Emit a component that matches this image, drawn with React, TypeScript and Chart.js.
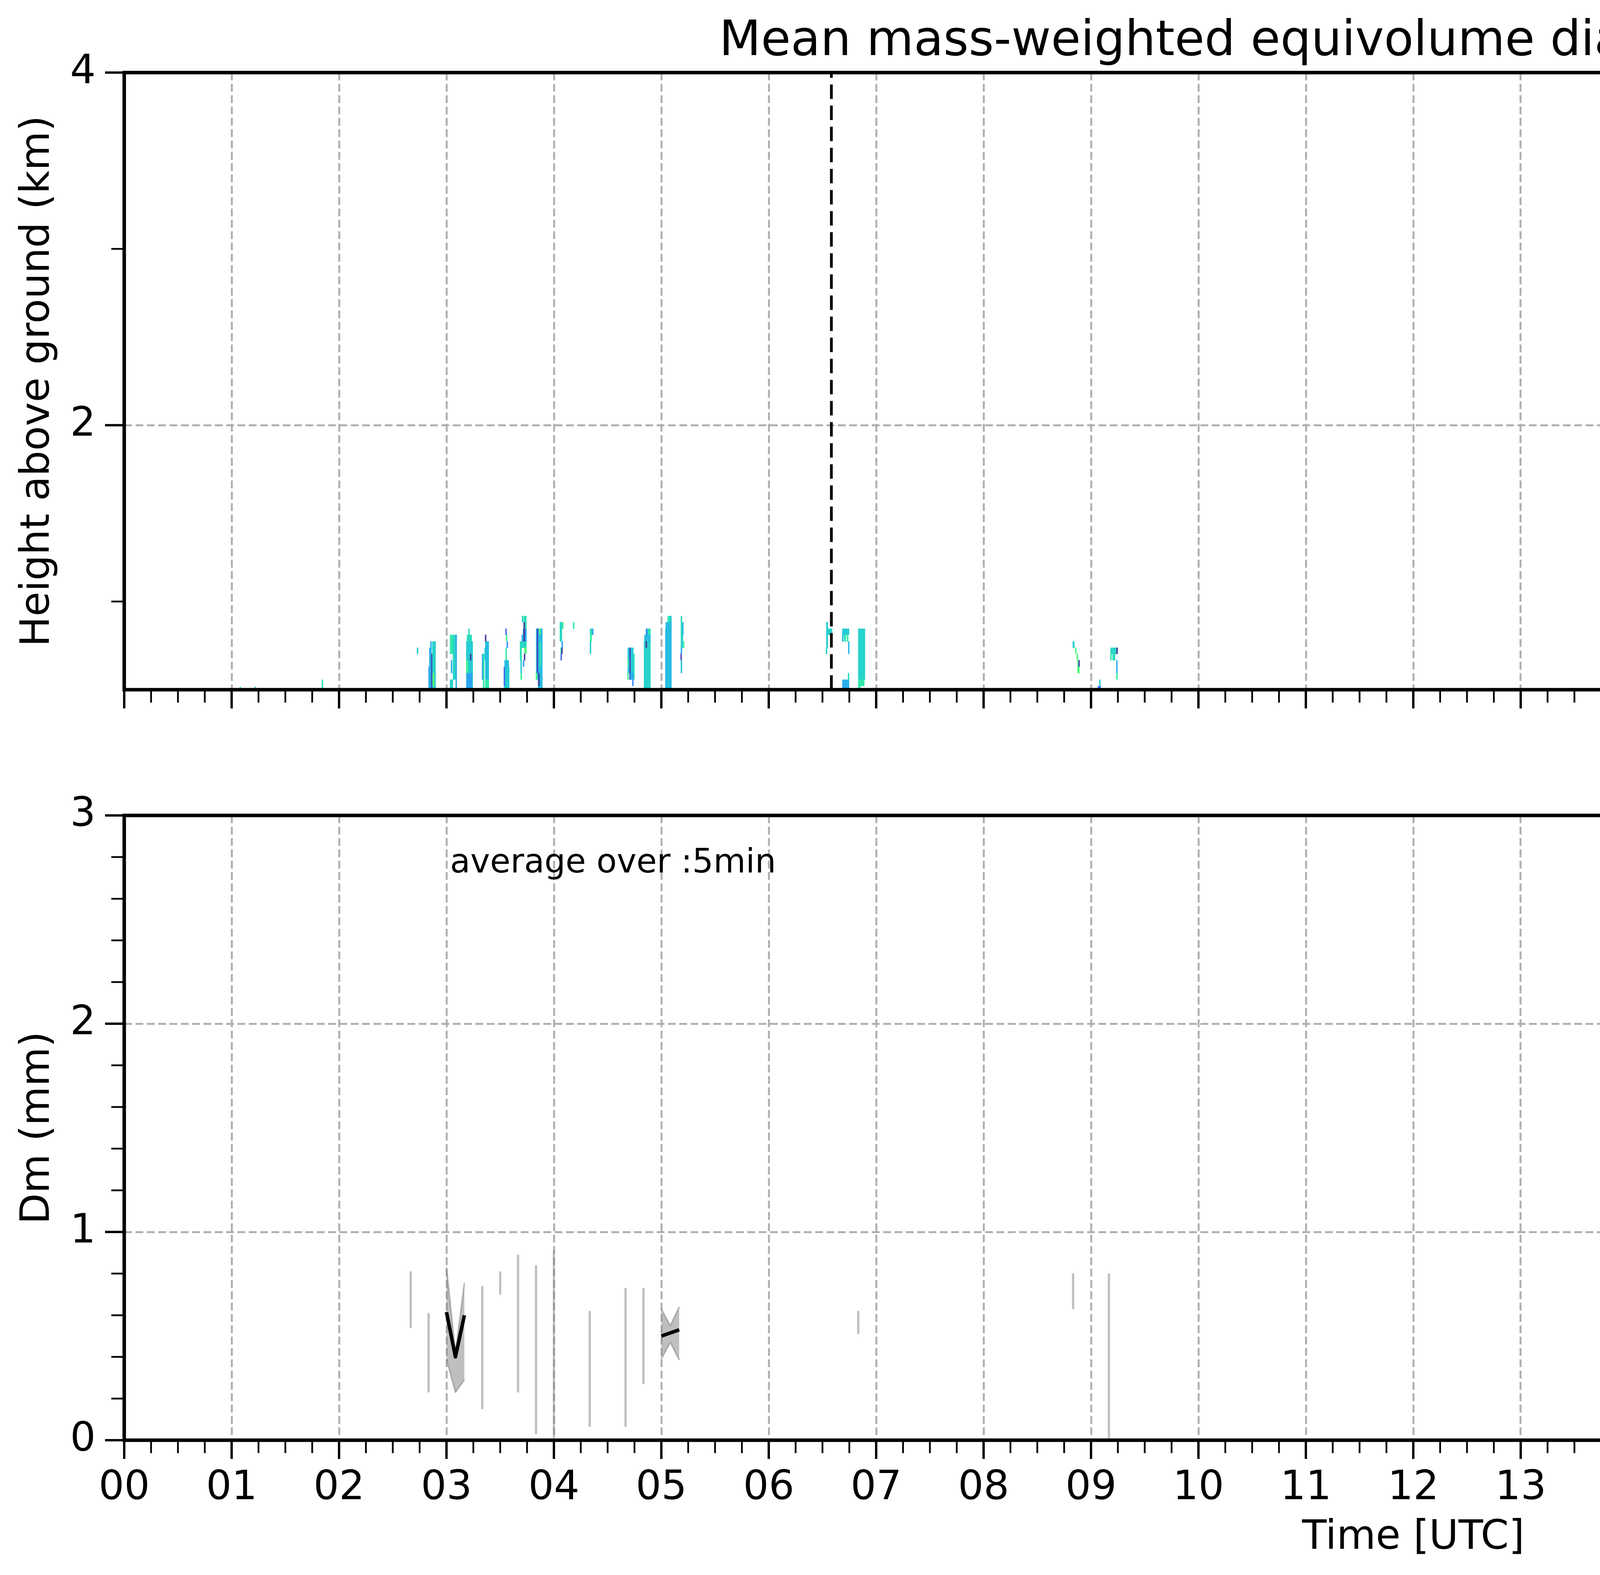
import React, { useEffect, useRef } from "react";
import { Chart } from "chart.js/auto";

const FONT = "'DejaVu Sans', sans-serif";
Chart.defaults.font.family = FONT;
Chart.defaults.color = "#000";

// ---------- values ----------
const chartTitle = "Mean mass-weighted equivolume diameter on 20260205";
const heightAxisTitle = "Height above ground (km)";
const dmAxisTitle = "Dm (mm)";
const timeAxisTitle = "Time [UTC]";
const colorbarTitle = "Dm (mm)";
const averagingNote = "average over :5min";

const hourLabels = [
  "00", "01", "02", "03", "04", "05", "06", "07", "08", "09", "10", "11",
  "12", "13", "14", "15", "16", "17", "18", "19", "20", "21", "22", "23",
];
const heightRange = [0.5, 4];
const heightTicks = [1, 2, 3, 4];
const heightTickLabels = ["", "2", "", "4"];
const dmRange = [0, 3];
const dmTicks = [0, 0.2, 0.4, 0.6, 0.8, 1, 1.2, 1.4, 1.6, 1.8, 2, 2.2, 2.4, 2.6, 2.8, 3];
const dmTickLabels = ["0", "", "", "", "", "1", "", "", "", "", "2", "", "", "", "", "3"];
const colorbarTicks = [0, 0.4, 0.8, 1.2, 1.6, 2.0];
const colorbarTickLabels = ["0.0", "0.4", "0.8", "1.2", "1.6", "2.0"];

// dashed markers (hours UTC) and the grey no-data strip at the end of the day
const eventTimes = [6.583, 16.33];
const noDataSpan = [23.885, 24];

// radar Dm cells: [start h, end h, bottom km, top km, Dm mm]
const cellsEarly = [
  [1.075, 1.085, 0.5, 0.515, 0.62],
  [1.215, 1.225, 0.5, 0.515, 0.55],
  [1.842, 1.848, 0.51, 0.557, 0.65],
  [2.728, 2.733, 0.703, 0.738, 0.55],
];
const cells0250 = [
  [2.833, 2.845, 0.5, 0.63, 0.4],
  [2.84, 2.85, 0.5, 0.738, 0.46],
  [2.852, 2.859, 0.5, 0.774, 0.45],
  [2.863, 2.866, 0.5, 0.703, 0.1],
  [2.868, 2.899, 0.5, 0.774, 0.58],
  [2.876, 2.882, 0.521, 0.594, 0.85],
];
const cells0300 = [
  [3.033, 3.06, 0.703, 0.811, 0.68],
  [3.06, 3.085, 0.557, 0.811, 0.6],
  [3.085, 3.096, 0.5, 0.811, 0.45],
  [3.033, 3.06, 0.5, 0.557, 0.58],
  [3.045, 3.049, 0.594, 0.667, 0.45],
  [3.184, 3.245, 0.5, 0.774, 0.55],
  [3.191, 3.236, 0.774, 0.811, 0.62],
  [3.205, 3.213, 0.811, 0.846, 0.62],
  [3.184, 3.2, 0.594, 0.667, 0.75],
  [3.187, 3.24, 0.5, 0.594, 0.42],
  [3.222, 3.228, 0.667, 0.703, 0.1],
  [3.332, 3.34, 0.557, 0.703, 0.38],
  [3.34, 3.352, 0.5, 0.703, 0.68],
  [3.358, 3.362, 0.667, 0.738, 0.55],
  [3.361, 3.394, 0.5, 0.774, 0.5],
  [3.363, 3.366, 0.774, 0.811, 0.1],
  [3.36, 3.394, 0.5, 0.557, 0.68],
  [3.536, 3.584, 0.5, 0.63, 0.55],
  [3.536, 3.542, 0.521, 0.63, 0.25],
  [3.54, 3.58, 0.63, 0.667, 0.5],
  [3.553, 3.558, 0.667, 0.738, 0.7],
  [3.562, 3.57, 0.738, 0.774, 0.35],
  [3.557, 3.564, 0.774, 0.811, 0.75],
  [3.553, 3.556, 0.811, 0.846, 0.25],
  [3.684, 3.745, 0.738, 0.774, 0.6],
  [3.7, 3.745, 0.774, 0.811, 0.45],
  [3.712, 3.745, 0.811, 0.846, 0.4],
  [3.705, 3.712, 0.883, 0.918, 0.6],
  [3.719, 3.745, 0.846, 0.918, 0.65],
  [3.722, 3.725, 0.774, 0.883, 0.1],
  [3.684, 3.7, 0.667, 0.738, 0.65],
  [3.69, 3.7, 0.594, 0.667, 0.55],
  [3.69, 3.702, 0.557, 0.594, 0.72],
  [3.725, 3.745, 0.703, 0.738, 0.8],
  [3.725, 3.729, 0.667, 0.703, 0.1],
  [3.716, 3.72, 0.63, 0.667, 0.4],
  [3.834, 3.893, 0.557, 0.846, 0.5],
  [3.852, 3.893, 0.5, 0.557, 0.5],
  [3.865, 3.88, 0.63, 0.774, 0.65],
  [3.845, 3.85, 0.594, 0.846, 0.15],
  [3.862, 3.875, 0.811, 0.846, 0.8],
  [3.858, 3.862, 0.521, 0.594, 0.1],
  [3.834, 3.84, 0.557, 0.594, 0.8],
];
const cells0400 = [
  [4.055, 4.075, 0.774, 0.883, 0.6],
  [4.08, 4.085, 0.846, 0.883, 0.72],
  [4.075, 4.08, 0.738, 0.774, 0.4],
  [4.062, 4.072, 0.703, 0.738, 0.7],
  [4.073, 4.077, 0.703, 0.738, 0.1],
  [4.066, 4.07, 0.667, 0.703, 0.25],
  [4.182, 4.186, 0.846, 0.883, 0.7],
  [4.336, 4.354, 0.811, 0.846, 0.62],
  [4.356, 4.367, 0.811, 0.846, 0.42],
  [4.336, 4.352, 0.774, 0.811, 0.72],
  [4.336, 4.345, 0.703, 0.774, 0.55],
  [4.687, 4.74, 0.594, 0.738, 0.55],
  [4.74, 4.75, 0.557, 0.703, 0.62],
  [4.687, 4.705, 0.63, 0.667, 0.68],
  [4.705, 4.712, 0.557, 0.738, 0.15],
  [4.712, 4.74, 0.557, 0.594, 0.45],
  [4.688, 4.692, 0.557, 0.594, 0.75],
  [4.733, 4.737, 0.521, 0.557, 0.35],
  [4.838, 4.899, 0.5, 0.774, 0.58],
  [4.842, 4.899, 0.774, 0.811, 0.5],
  [4.856, 4.875, 0.811, 0.846, 0.38],
  [4.875, 4.899, 0.811, 0.846, 0.65],
  [4.858, 4.862, 0.738, 0.774, 0.1],
];
const cells0500 = [
  [5.037, 5.095, 0.5, 0.846, 0.5],
  [5.041, 5.095, 0.846, 0.883, 0.5],
  [5.059, 5.095, 0.883, 0.918, 0.55],
  [5.064, 5.072, 0.883, 0.918, 0.7],
  [5.182, 5.192, 0.738, 0.918, 0.62],
  [5.182, 5.192, 0.703, 0.738, 0.42],
  [5.182, 5.187, 0.667, 0.703, 0.15],
  [5.182, 5.192, 0.594, 0.667, 0.52],
  [5.192, 5.2, 0.738, 0.846, 0.55],
  [5.204, 5.21, 0.738, 0.774, 0.7],
  [5.199, 5.202, 0.811, 0.883, 0.5],
];
const cells0630 = [
  [6.536, 6.55, 0.738, 0.883, 0.55],
  [6.55, 6.59, 0.811, 0.846, 0.58],
  [6.536, 6.54, 0.703, 0.738, 0.6],
  [6.685, 6.748, 0.811, 0.846, 0.55],
  [6.685, 6.692, 0.774, 0.811, 0.5],
  [6.7, 6.718, 0.774, 0.811, 0.65],
  [6.728, 6.74, 0.774, 0.811, 0.7],
  [6.741, 6.748, 0.703, 0.774, 0.5],
  [6.685, 6.748, 0.5, 0.557, 0.45],
  [6.741, 6.745, 0.557, 0.594, 0.62],
  [6.833, 6.896, 0.557, 0.846, 0.58],
  [6.833, 6.89, 0.521, 0.557, 0.68],
  [6.833, 6.855, 0.5, 0.521, 0.7],
];
const cells0850 = [
  [8.83, 8.845, 0.738, 0.774, 0.55],
  [8.856, 8.86, 0.703, 0.738, 0.8],
  [8.87, 8.876, 0.667, 0.703, 0.8],
  [8.874, 8.893, 0.594, 0.667, 0.82],
  [8.886, 8.893, 0.63, 0.667, 0.15],
  [9.063, 9.091, 0.5, 0.521, 0.3],
  [9.08, 9.085, 0.521, 0.557, 0.55],
  [9.182, 9.245, 0.703, 0.738, 0.6],
  [9.182, 9.188, 0.667, 0.703, 0.68],
  [9.2, 9.225, 0.667, 0.703, 0.62],
  [9.24, 9.245, 0.703, 0.738, 0.1],
  [9.236, 9.245, 0.594, 0.667, 0.45],
  [9.24, 9.243, 0.557, 0.594, 0.7],
];
const radarCells = [
  ...cellsEarly, ...cells0250, ...cells0300, ...cells0400,
  ...cells0500, ...cells0630, ...cells0850,
];

// 5-minute radar Dm statistics (mm)
const radarTimes = [
  "02:40", "02:50", "03:00", "03:05", "03:10", "03:20", "03:30", "03:40", "03:50", "04:00",
  "04:20", "04:40", "04:50", "05:00", "05:05", "05:10", "06:50", "08:50", "09:10",
];
const radarMin = [0.54, 0.23, 0.39, 0.23, 0.29, 0.15, 0.7, 0.23, 0.03, 0.01, 0.065, 0.065, 0.27, 0.39, 0.47, 0.385, 0.51, 0.63, 0.0];
const radarMax = [0.81, 0.61, 0.83, 0.42, 0.755, 0.74, 0.81, 0.89, 0.84, 0.91, 0.62, 0.73, 0.73, 0.63, 0.55, 0.64, 0.62, 0.8, 0.8];
const radarMedian = [null, null, 0.615, 0.4, 0.6, null, null, null, null, null, null, null, null, 0.5, 0.515, 0.53, null, null, null];

// parsivel had no data this day
const parsivelTimes: string[] = [];
const parsivelMin: number[] = [];
const parsivelMax: number[] = [];
const parsivelMedian: number[] = [];

// ---------- helpers ----------
const GRID = "#b0b0b0";
const CLEAR = "rgba(0,0,0,0)";
const RADAR_FILL = "rgba(128,128,128,0.5)";
const PARS_FILL = "rgba(191,0,191,0.3)";
const PARS_LINE = "#bf00bf";
const BIN = 5 / 60;

const hm = (s: string) => {
  const [h, m] = s.split(":").map(Number);
  return h + m / 60;
};

// points with a null inserted wherever consecutive bins are not adjacent
const binnedPoints = (hours: number[], vals: (number | null)[]) =>
  hours.flatMap((x, i) => {
    const gap = i > 0 && x - hours[i - 1] > BIN * 1.2;
    const p = { x, y: vals[i] };
    return gap ? [{ x: (x + hours[i - 1]) / 2, y: null }, p] : [p];
  });

// matplotlib "turbo" colormap (polynomial fit)
const turbo = (t: number) => {
  const x = Math.min(1, Math.max(0, t));
  const r = 0.13572138 + x * (4.6153926 + x * (-42.66032258 + x * (132.13108234 + x * (-152.94239396 + x * 59.28637943))));
  const g = 0.09140261 + x * (2.19418839 + x * (4.84296658 + x * (-14.18503333 + x * (4.27729857 + x * 2.82956604))));
  const b = 0.1066733 + x * (12.64194608 + x * (-60.58204836 + x * (110.36276771 + x * (-89.90310912 + x * 27.34824973))));
  const c = (v: number) => Math.round(255 * Math.min(1, Math.max(0, v)));
  return `rgb(${c(r)},${c(g)},${c(b)})`;
};
const cbMax = colorbarTicks[colorbarTicks.length - 1];
const dmColor = (dm: number) => turbo(dm / cbMax);

const quarterHours = Array.from({ length: 97 }, (_, i) => i / 4);
const isHour = (v: number) => Number.isInteger(v);

// bars whose horizontal extent is given in data units (t0..t1)
const spanBars = {
  id: "spanBars",
  afterDatasetsUpdate(chart: any) {
    const xs = chart.scales.x;
    chart.data.datasets.forEach((ds: any, i: number) => {
      if (!ds.spanX) return;
      chart.getDatasetMeta(i).data.forEach((el: any, j: number) => {
        const d = ds.data[j];
        const x0 = xs.getPixelForValue(d.t0);
        const x1 = xs.getPixelForValue(d.t1);
        el.x = (x0 + x1) / 2;
        el.width = Math.max(x1 - x0, 3);
      });
    });
  },
};

// matplotlib-like frame and outward major/minor ticks
const frameAndTicks = (cfg: any) => ({
  id: "frameAndTicks",
  afterDraw(chart: any) {
    const { ctx, chartArea: a } = chart;
    ctx.save();
    ctx.strokeStyle = "#000";
    if (cfg.xMajor) {
      const s = chart.scales.x;
      s.ticks.forEach((t: any) => {
        const major = cfg.xMajor(t.value);
        const px = s.getPixelForValue(t.value);
        ctx.lineWidth = major ? 6 : 4.5;
        ctx.beginPath();
        ctx.moveTo(px, a.bottom);
        ctx.lineTo(px, a.bottom + (major ? 48 : 33));
        ctx.stroke();
      });
    }
    if (cfg.yMajor) {
      const s = chart.scales.y;
      const right = cfg.side === "right";
      s.ticks.forEach((t: any) => {
        const major = cfg.yMajor(t.value);
        const py = s.getPixelForValue(t.value);
        const len = right ? 20 : major ? 49 : 33;
        ctx.lineWidth = right ? 4.5 : major ? 6 : 4.5;
        ctx.beginPath();
        ctx.moveTo(right ? a.right : a.left, py);
        ctx.lineTo(right ? a.right + len : a.left - len, py);
        ctx.stroke();
      });
    }
    ctx.lineWidth = cfg.frame;
    ctx.strokeRect(a.left, a.top, a.width, a.height);
    ctx.restore();
  },
});

const hourScale = (showLabels: boolean, height: number, title?: string) => ({
  type: "linear",
  min: 0,
  max: 24,
  offset: false,
  afterBuildTicks: (s: any) => {
    s.ticks = quarterHours.map((value) => ({ value }));
  },
  afterFit: (s: any) => {
    s.height = height;
  },
  ticks: {
    display: showLabels,
    autoSkip: false,
    maxRotation: 0,
    minRotation: 0,
    padding: 62,
    font: { size: 103 },
    callback: (v: number) => (isHour(v) && v < 24 ? hourLabels[v] : ""),
  },
  grid: {
    color: (c: any) =>
      c.tick && isHour(c.tick.value) && c.tick.value > 0 && c.tick.value < 24 ? GRID : CLEAR,
    lineWidth: 5,
    drawTicks: false,
    offset: false,
  },
  border: { display: false, dash: [20, 9] },
  title: title
    ? { display: true, text: title, font: { size: 103 }, padding: { top: 0, bottom: 32 } }
    : { display: false },
});

const listScale = (range: number[], ticks: number[], labels: string[], gridAt: number[], title: string) => ({
  type: "linear",
  min: range[0],
  max: range[1],
  afterBuildTicks: (s: any) => {
    s.ticks = ticks.map((value) => ({ value }));
  },
  afterFit: (s: any) => {
    s.width = 318;
  },
  ticks: {
    autoSkip: false,
    padding: 73,
    font: { size: 103 },
    callback: (v: number) => labels[ticks.indexOf(v)] ?? "",
  },
  grid: {
    color: (c: any) => (c.tick && gridAt.includes(c.tick.value) ? GRID : CLEAR),
    lineWidth: 5,
    drawTicks: false,
  },
  border: { display: false, dash: [20, 9] },
  title: { display: true, text: title, font: { size: 103 }, padding: { top: 36, bottom: 0 } },
});

// ---------- chart configs ----------
const topConfig = (): any => {
  const cellPts = radarCells.map(([t0, t1, h0, h1]) => ({ x: (t0 + t1) / 2, y: [h0, h1], t0, t1 }));
  const bandPts = [
    { x: (noDataSpan[0] + noDataSpan[1]) / 2, y: heightRange, t0: noDataSpan[0], t1: noDataSpan[1] },
  ];
  const eventPts = eventTimes.flatMap((t) => [
    { x: t, y: heightRange[0] },
    { x: t, y: heightRange[1] },
    { x: t + 0.01, y: null },
  ]);
  return {
    type: "bar",
    data: {
      datasets: [
        {
          type: "line",
          label: "markers",
          data: eventPts,
          borderColor: "#000",
          borderWidth: 7,
          borderDash: [37, 17],
          pointRadius: 0,
          spanGaps: false,
          order: 0,
        },
        {
          type: "bar",
          label: "Dm",
          data: cellPts,
          backgroundColor: radarCells.map((c) => dmColor(c[4])),
          borderWidth: 0,
          barThickness: 2,
          grouped: false,
          spanX: true,
          order: 1,
        },
        {
          type: "bar",
          label: "no data",
          data: bandPts,
          backgroundColor: "#d9d9d9",
          borderWidth: 0,
          barThickness: 2,
          grouped: false,
          spanX: true,
          order: 2,
        },
      ],
    },
    options: {
      animation: false,
      responsive: false,
      devicePixelRatio: 1,
      layout: { padding: { left: 0, right: 42, top: 0, bottom: 0 } },
      plugins: {
        legend: { display: false },
        tooltip: { enabled: false },
        title: {
          display: true,
          text: chartTitle,
          fullSize: false,
          color: "#000",
          font: { size: 124, weight: "normal" },
          padding: { top: 34, bottom: 3 },
        },
      },
      scales: {
        x: hourScale(false, 115),
        y: listScale(heightRange, heightTicks, heightTickLabels, [2], heightAxisTitle),
      },
    },
    plugins: [
      spanBars,
      frameAndTicks({
        xMajor: isHour,
        yMajor: (v: number) => heightTickLabels[heightTicks.indexOf(v)] !== "",
        frame: 9,
      }),
    ],
  };
};

const colorbarConfig = (): any => ({
  type: "bar",
  data: {
    labels: [""],
    datasets: [
      {
        data: [[colorbarTicks[0], cbMax]],
        backgroundColor: (c: any) => {
          const a = c.chart.chartArea;
          if (!a) return CLEAR;
          const g = c.chart.ctx.createLinearGradient(0, a.bottom, 0, a.top);
          for (let i = 0; i <= 40; i++) g.addColorStop(i / 40, turbo(i / 40));
          return g;
        },
        borderWidth: 0,
        barPercentage: 1,
        categoryPercentage: 1,
      },
    ],
  },
  options: {
    animation: false,
    responsive: false,
    devicePixelRatio: 1,
    layout: { padding: { left: 33, right: 0, top: 186, bottom: 115 } },
    plugins: { legend: { display: false }, tooltip: { enabled: false } },
    scales: {
      x: { display: false },
      y: {
        position: "right",
        min: colorbarTicks[0],
        max: cbMax,
        afterBuildTicks: (s: any) => {
          s.ticks = colorbarTicks.map((value) => ({ value }));
        },
        afterFit: (s: any) => {
          s.width = 337;
        },
        ticks: {
          autoSkip: false,
          padding: 46,
          font: { size: 80 },
          callback: (v: number) => colorbarTickLabels[colorbarTicks.indexOf(v)] ?? "",
        },
        grid: { display: false, drawTicks: false },
        border: { display: false },
      },
    },
  },
  plugins: [
    frameAndTicks({ yMajor: () => true, side: "right", frame: 6 }),
    {
      id: "colorbarTitle",
      afterDraw(chart: any) {
        const { ctx, chartArea: a } = chart;
        ctx.save();
        ctx.translate(a.right + 271, (a.top + a.bottom) / 2);
        ctx.rotate(-Math.PI / 2);
        ctx.font = `83px ${FONT}`;
        ctx.fillStyle = "#000";
        ctx.textAlign = "center";
        ctx.textBaseline = "alphabetic";
        ctx.fillText(colorbarTitle, 0, 0);
        ctx.restore();
      },
    },
  ],
});

const lowConfig = (): any => {
  const radarHours = radarTimes.map(hm);
  const isolated = radarHours.map(
    (t, i) =>
      (i === 0 || t - radarHours[i - 1] > BIN * 1.2) &&
      (i === radarHours.length - 1 || radarHours[i + 1] - t > BIN * 1.2)
  );
  const singlePts = radarHours.flatMap((x, i) => (isolated[i] ? [{ x, y: [radarMin[i], radarMax[i]] }] : []));
  const parsHours = parsivelTimes.map(hm);
  const line = { pointRadius: 0, spanGaps: false, borderJoinStyle: "round", tension: 0 };
  return {
    type: "line",
    data: {
      datasets: [
        { ...line, label: "Min-Max Range radar Dm", legendKind: "patch", data: binnedPoints(radarHours, radarMax), borderColor: RADAR_FILL, backgroundColor: RADAR_FILL, borderWidth: 4, fill: "+1", order: 2 },
        { ...line, label: "radar Dm min", data: binnedPoints(radarHours, radarMin), borderColor: RADAR_FILL, borderWidth: 4, fill: false, order: 3 },
        { type: "bar", label: "radar Dm single bins", data: singlePts, backgroundColor: RADAR_FILL, borderWidth: 0, barThickness: 5, grouped: false, order: 1 },
        { ...line, label: "radar(xmacs-wmacs)_Dm_median", legendKind: "line", data: binnedPoints(radarHours, radarMedian), borderColor: "#000", borderWidth: 9, fill: false, order: 0 },
        { ...line, label: "Min-Max Range parsivel Dm", legendKind: "patch", data: binnedPoints(parsHours, parsivelMax), borderColor: PARS_FILL, backgroundColor: PARS_FILL, borderWidth: 4, fill: "+1", order: 5 },
        { ...line, label: "parsivel Dm min", data: binnedPoints(parsHours, parsivelMin), borderColor: PARS_FILL, borderWidth: 4, fill: false, order: 6 },
        { ...line, label: "parsivel_Dm_median", legendKind: "line", data: binnedPoints(parsHours, parsivelMedian), borderColor: PARS_LINE, borderWidth: 9, fill: false, order: 4 },
      ],
    },
    options: {
      animation: false,
      responsive: false,
      devicePixelRatio: 1,
      layout: { padding: { left: 0, right: 524, top: 137, bottom: 0 } },
      plugins: { legend: { display: false }, tooltip: { enabled: false } },
      scales: {
        x: hourScale(true, 345, timeAxisTitle),
        y: listScale(dmRange, dmTicks, dmTickLabels, [1, 2], dmAxisTitle),
      },
    },
    plugins: [
      frameAndTicks({
        xMajor: isHour,
        yMajor: (v: number) => dmTickLabels[dmTicks.indexOf(v)] !== "",
        frame: 9,
      }),
      {
        id: "note",
        afterDraw(chart: any) {
          const { ctx, chartArea: a } = chart;
          ctx.save();
          ctx.font = `85px ${FONT}`;
          ctx.fillStyle = "#000";
          ctx.textBaseline = "alphabetic";
          ctx.fillText(averagingNote, a.left + 834, a.top + 146);
          ctx.restore();
        },
      },
      {
        id: "legendBox",
        afterDraw(chart: any) {
          const { ctx, chartArea: a } = chart;
          const items = chart.data.datasets.filter((d: any) => d.legendKind);
          ctx.save();
          ctx.font = `70px ${FONT}`;
          const textW = Math.max(...items.map((d: any) => ctx.measureText(d.label).width));
          const w = 24 + 146 + 55 + textW + 20;
          const h = 434;
          const left = a.right - 35 - w;
          const top = a.top + 32;
          ctx.beginPath();
          ctx.roundRect(left, top, w, h, 16);
          ctx.fillStyle = "rgba(255,255,255,0.8)";
          ctx.fill();
          ctx.strokeStyle = "#cccccc";
          ctx.lineWidth = 4;
          ctx.stroke();
          items.forEach((d: any, i: number) => {
            const cy = top + 59 + i * 102.4;
            const hx = left + 24;
            if (d.legendKind === "patch") {
              ctx.fillStyle = d.backgroundColor;
              ctx.fillRect(hx, cy - 26, 146, 53);
              ctx.strokeStyle = d.borderColor;
              ctx.lineWidth = 4;
              ctx.strokeRect(hx, cy - 26, 146, 53);
            } else {
              ctx.strokeStyle = d.borderColor;
              ctx.lineWidth = 9;
              ctx.beginPath();
              ctx.moveTo(hx, cy);
              ctx.lineTo(hx + 146, cy);
              ctx.stroke();
            }
            ctx.fillStyle = "#000";
            ctx.textBaseline = "middle";
            ctx.fillText(d.label, hx + 146 + 55, cy - 4);
          });
          ctx.restore();
        },
      },
    ],
  };
};

export default function App() {
  const topRef = useRef<HTMLCanvasElement>(null);
  const barRef = useRef<HTMLCanvasElement>(null);
  const lowRef = useRef<HTMLCanvasElement>(null);

  useEffect(() => {
    if (!topRef.current || !barRef.current || !lowRef.current) return;
    const charts = [
      new Chart(topRef.current, topConfig()),
      new Chart(barRef.current, colorbarConfig()),
      new Chart(lowRef.current, lowConfig()),
    ];
    return () => charts.forEach((c) => c.destroy());
  }, []);

  return (
    <div style={{ position: "absolute", left: 0, top: 0, width: 7442, height: 4031, background: "#fff" }}>
      <canvas ref={topRef} width={6960} height={1900} style={{ position: "absolute", left: 0, top: 0 }} />
      <canvas ref={barRef} width={482} height={1900} style={{ position: "absolute", left: 6960, top: 0 }} />
      <canvas ref={lowRef} width={7442} height={2081} style={{ position: "absolute", left: 0, top: 1950 }} />
    </div>
  );
}
